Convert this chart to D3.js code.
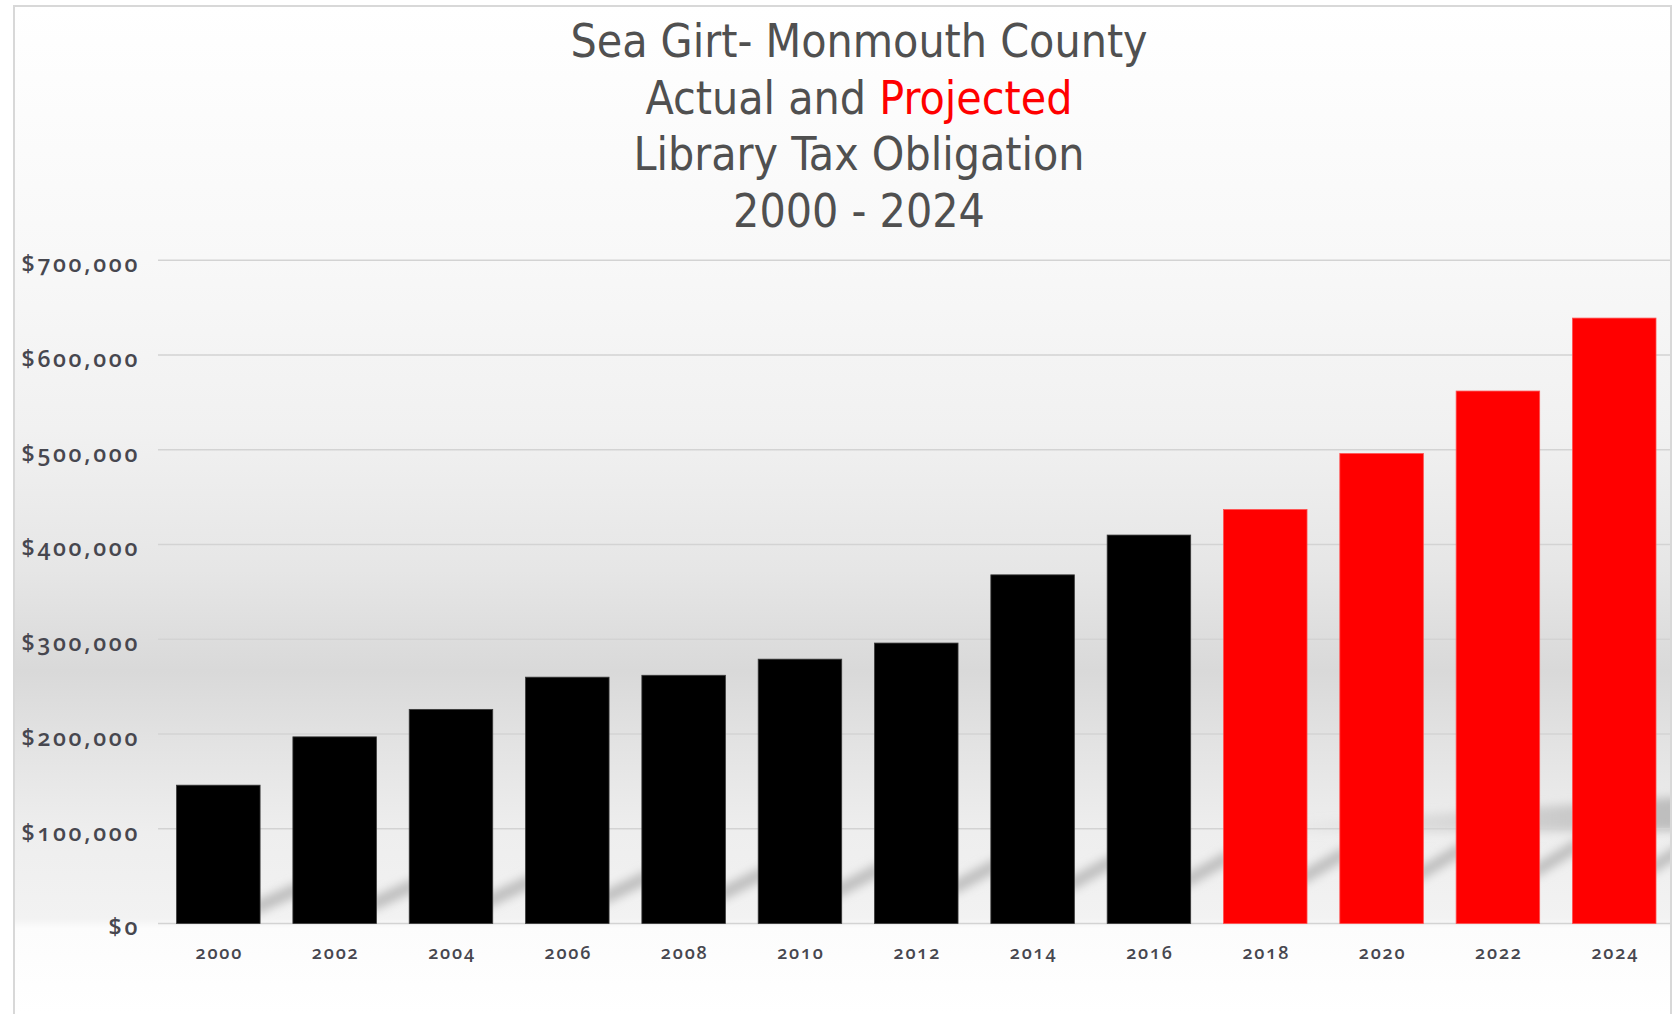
<!DOCTYPE html>
<meta charset="utf-8">
<style>

body {
  margin: 0;
  background: #fff;
}

.title {
  font-family: "DejaVu Sans Condensed", "DejaVu Sans", sans-serif;
  font-stretch: condensed;
  font-size: 46px;
  fill: #505050;
}

.axis text {
  font-family: "Open Sans", sans-serif;
  font-weight: 600;
  font-variant-numeric: oldstyle-nums;
  fill: #47474f;
}

.grid line {
  stroke: #d3d3d3;
  stroke-width: 1.5;
}

</style>
<body>
<script src="https://d3js.org/d3.v7.min.js"></script>
<script>

var years = ["2000", "2002", "2004", "2006", "2008", "2010", "2012",
             "2014", "2016", "2018", "2020", "2022", "2024"];
var values = [146000, 197000, 226000, 260000, 262000, 279000, 296000,
              368000, 410000, 437000, 496000, 562000, 639000];
var kind = ["Actual", "Actual", "Actual", "Actual", "Actual", "Actual", "Actual",
            "Actual", "Actual", "Projected", "Projected", "Projected", "Projected"];
var yTicks = [0, 100000, 200000, 300000, 400000, 500000, 600000, 700000];
var titleLines = ["Sea Girt- Monmouth County", "Actual and |Projected", "Library Tax Obligation", "2000 - 2024"];

var data = years.map(function(d, i) { return {year: d, value: values[i], kind: kind[i]}; });

var width = 1680, height = 1014;
var plot = {left: 158, right: 1670, top: 260.3, bottom: 923.5};

var color = d3.scaleOrdinal().domain(["Actual", "Projected"]).range(["#000000", "#ff0000"]);

var x = d3.scaleBand()
    .domain(years)
    .range([plot.left, plot.right])
    .paddingInner(0.282)
    .paddingOuter(0.14)
    .align(0.57);

var y = d3.scaleLinear()
    .domain([0, 700000])
    .range([plot.bottom, plot.top]);

var svg = d3.select("body").append("svg")
    .attr("width", width)
    .attr("height", height);

var defs = svg.append("defs");

// panel background: white at top, grey band around $300k, light again near the floor
var bg = defs.append("linearGradient")
    .attr("id", "bg")
    .attr("gradientUnits", "userSpaceOnUse")
    .attr("x1", 0).attr("y1", 6).attr("x2", 0).attr("y2", 1014);
[[0, "#ffffff"], [0.25, "#f8f8f8"], [0.42, "#f1f1f1"], [0.56, "#e6e6e6"],
 [0.66, "#d9d9d9"], [0.74, "#e4e4e4"], [0.82, "#eeeeee"], [0.905, "#f2f2f2"],
 [0.915, "#fcfcfc"], [1, "#ffffff"]].forEach(function(s) {
  bg.append("stop").attr("offset", s[0]).attr("stop-color", s[1]);
});

// the dark rim of the floor shadow only shows on the right
var lip = defs.append("linearGradient")
    .attr("id", "lip")
    .attr("gradientUnits", "userSpaceOnUse")
    .attr("x1", 1250).attr("y1", 0).attr("x2", 1670).attr("y2", 0);
lip.append("stop").attr("offset", 0).attr("stop-color", "#c4c4c4").attr("stop-opacity", 0);
lip.append("stop").attr("offset", 1).attr("stop-color", "#bdbdbd").attr("stop-opacity", 1);

defs.append("filter")
    .attr("id", "blur")
    .attr("x", "-50%").attr("y", "-50%").attr("width", "200%").attr("height", "200%")
  .append("feGaussianBlur")
    .attr("stdDeviation", 5);

defs.append("clipPath")
    .attr("id", "floor")
  .append("rect")
    .attr("x", plot.left)
    .attr("y", y(250000))
    .attr("width", plot.right - plot.left)
    .attr("height", plot.bottom - y(250000));

svg.append("rect")
    .attr("x", 14)
    .attr("y", 6)
    .attr("width", 1657)
    .attr("height", 1010)
    .attr("fill", "url(#bg)")
    .attr("stroke", "#d8d8d8")
    .attr("stroke-width", 2);

// floor shadows
var step = x.step();
var gap = step - x.bandwidth();
var shadow = svg.append("g")
    .attr("clip-path", "url(#floor)")
  .append("g")
    .attr("filter", "url(#blur)");

shadow.append("path")
    .attr("fill", "url(#lip)")
    .attr("d", "M1250," + (y(100000) - 2) + "L1680," + (y(100000) - 32) +
               "L1680," + (y(100000) + 2) + "L1250," + (y(100000) + 4) + "Z");

shadow.selectAll(".streak")
    .data(data)
  .enter().append("path")
    .attr("class", "streak")
    .attr("fill", "#bebebe")
    .attr("d", function(d, i) {
      var x1 = x(d.year) + x.bandwidth();
      var y0 = plot.bottom - 16 - i * 3.3;
      var y1 = y0 - 20 - i * 0.7;
      return "M" + (x1 - 6) + "," + (y0 - 6) +
             "L" + (x1 + gap + 6) + "," + (y1 - 6) +
             "L" + (x1 + gap + 6) + "," + (y1 + 8) +
             "L" + (x1 - 6) + "," + (y0 + 8) + "Z";
    });

// gridlines
svg.append("g")
    .attr("class", "grid")
  .selectAll("line")
    .data(yTicks)
  .enter().append("line")
    .attr("x1", plot.left)
    .attr("x2", plot.right)
    .attr("y1", function(d) { return y(d); })
    .attr("y2", function(d) { return y(d); });

// bars
svg.append("g")
  .selectAll("rect")
    .data(data)
  .enter().append("rect")
    .attr("x", function(d) { return x(d.year); })
    .attr("y", function(d) { return y(d.value); })
    .attr("width", x.bandwidth())
    .attr("height", function(d) { return y(0) - y(d.value); })
    .attr("fill", function(d) { return color(d.kind); })
    .attr("stroke", function(d) { return d.kind == "Actual" ? "#3a3a3a" : "#ff5050"; })
    .attr("stroke-width", 0.8);

// axes
var yAxis = d3.axisLeft(y)
    .tickValues(yTicks)
    .tickSize(0)
    .tickPadding(0)
    .tickFormat(function(d) { return "$" + d3.format(",")(d); });

svg.append("g")
    .attr("class", "axis")
    .attr("transform", "translate(140,4)")
    .call(yAxis)
    .call(function(g) { g.select(".domain").remove(); })
  .selectAll("text")
    .style("font-size", "23px")
    .style("letter-spacing", "2.7px");

var xAxis = d3.axisBottom(x)
    .tickSize(0)
    .tickPadding(0);

svg.append("g")
    .attr("class", "axis")
    .attr("transform", "translate(1," + (plot.bottom + 23) + ")")
    .call(xAxis)
    .call(function(g) { g.select(".domain").remove(); })
  .selectAll("text")
    .style("font-size", "18px")
    .style("letter-spacing", "1.8px");

// title
var title = svg.append("text")
    .attr("class", "title")
    .attr("text-anchor", "middle");

titleLines.forEach(function(line, i) {
  var parts = line.split("|");
  parts.forEach(function(p, j) {
    var t = title.append("tspan").text(p);
    if (j == 0) t.attr("x", 859).attr("y", 57 + i * 56.5);
    if (j == 1) t.attr("fill", "#ff0000");
  });
});

</script>
